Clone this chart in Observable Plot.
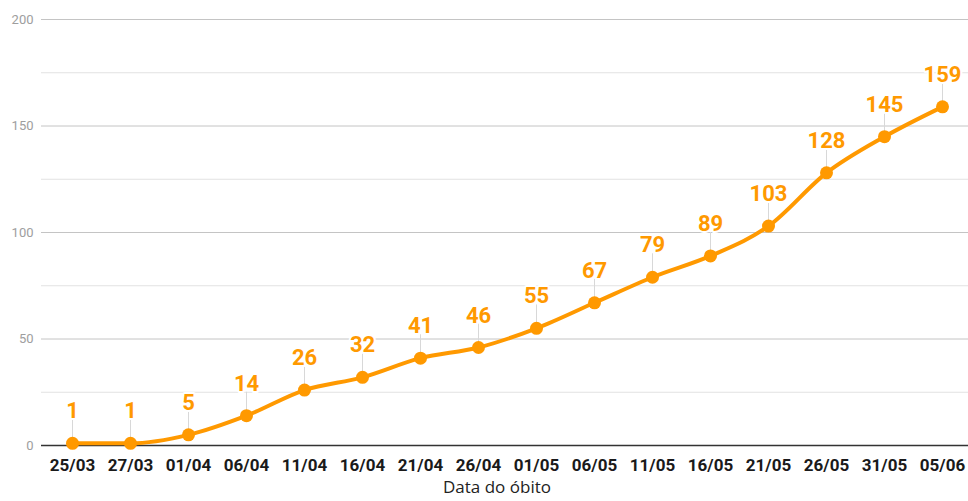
<!DOCTYPE html>
<html>
<head>
<meta charset="utf-8">
<script src="https://cdn.jsdelivr.net/npm/d3@7"></script>
<script src="https://cdn.jsdelivr.net/npm/@observablehq/plot@0.6"></script>
<style>
  html, body { margin: 0; padding: 0; background: #fff; }
  #chart { width: 968px; height: 501px; overflow: hidden; }
</style>
</head>
<body>
<div id="chart"></div>
<script>
const dates = ["25/03","27/03","01/04","06/04","11/04","16/04","21/04","26/04","01/05","06/05","11/05","16/05","21/05","26/05","31/05","05/06"];
const deaths = [1,1,5,14,26,32,41,46,55,67,79,89,103,128,145,159];
const majorTicks = [0,50,100,150,200];
const minorTicks = [25,75,125,175];
const xTitle = "Data do óbito";

const data = dates.map((d, i) => ({date: d, value: deaths[i]}));
const orange = "#FF9900";

const chart = Plot.plot({
  width: 968,
  height: 501,
  marginTop: 19,
  marginBottom: 56,
  marginLeft: 41,
  marginRight: 0,
  style: {fontFamily: "Roboto, sans-serif", background: "#fff"},
  x: {type: "point", domain: dates, range: [69, 945], padding: 0, label: null},
  y: {domain: [0, 200], label: null},
  marks: [
    Plot.ruleY(minorTicks, {stroke: "#e2e2e2", strokeWidth: 1}),
    Plot.ruleY(majorTicks.filter(t => t > 0), {stroke: "#c4c4c4", strokeWidth: 1}),
    Plot.axisY({ticks: majorTicks, tickSize: 0, tickPadding: 8, fill: "#9e9e9e", fontSize: 13, label: null}),
    Plot.axisX({tickSize: 0, tickPadding: 13, fontSize: 17, fontWeight: "bold", fill: "#1a1a1a", label: null}),
    Plot.ruleX(data, {x: "date", y1: "value", y2: d => d.value + 11, stroke: "#d8d8d8", strokeWidth: 1}),
    Plot.ruleY([0], {stroke: "#333", strokeWidth: 1.6}),
    Plot.line(data, {x: "date", y: "value", stroke: orange, strokeWidth: 4, curve: "monotone-x"}),
    Plot.dot(data, {x: "date", y: "value", r: 6.5, fill: orange, stroke: "none"}),
    Plot.text(data, {x: "date", y: "value", text: d => String(d.value), dy: -32, fill: orange, stroke: "white", strokeWidth: 4, fontSize: 22, fontWeight: "bold", textAnchor: "middle", lineAnchor: "middle"})
  ]
});

const svg = d3.select(chart);
svg.append("text")
  .attr("x", 497)
  .attr("y", 493)
  .attr("text-anchor", "middle")
  .attr("font-family", "'Open Sans', 'Noto Sans', sans-serif")
  .attr("font-size", 17)
  .attr("fill", "#222")
  .text(xTitle);

document.getElementById("chart").appendChild(chart);
</script>
</body>
</html>
